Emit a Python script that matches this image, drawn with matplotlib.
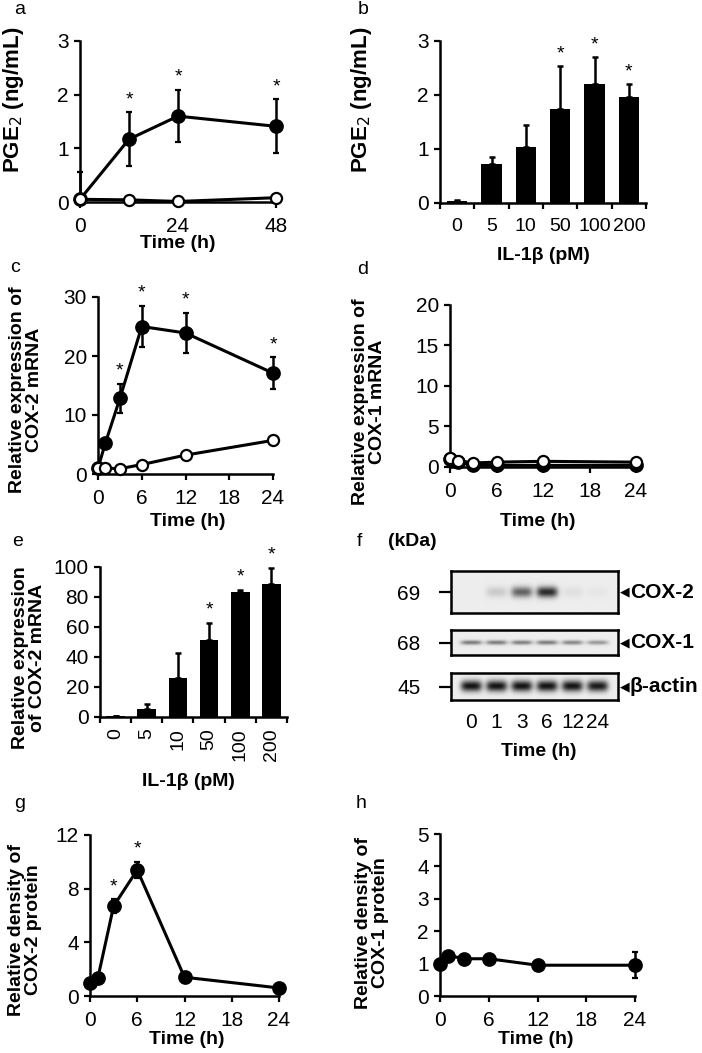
import numpy as np
import matplotlib.pyplot as plt
from matplotlib import transforms

W, H = 702, 1053
plt.rcParams['font.family'] = ['Liberation Sans', 'DejaVu Sans']
plt.rcParams['font.size'] = 14

# a: PGE2 over time
a_time = [0, 12, 24, 48]
a_il1 = [0.05, 1.17, 1.6, 1.41]
a_il1_err = [0.5, 0.5, 0.49, 0.5]
a_ctrl = [0.05, 0.04, 0.01, 0.08]
a_star = [False, True, True, True]

# b: PGE2 vs dose
dose_labels = ['0', '5', '10', '50', '100', '200']
b_pge2 = [0.03, 0.73, 1.04, 1.75, 2.2, 1.96]
b_err = [0.02, 0.12, 0.4, 0.78, 0.5, 0.24]
b_star = [False, False, False, True, True, True]

# c: COX-2 mRNA over time
time_h = [0, 1, 3, 6, 12, 24]
c_il1 = [1.0, 5.2, 12.8, 25.0, 23.9, 17.1]
c_il1_err = [0.3, 0.8, 2.5, 3.5, 3.4, 2.7]
c_ctrl = [1.0, 1.0, 0.9, 1.6, 3.2, 5.7]
c_star = [False, False, True, True, True, True]

# d: COX-1 mRNA over time
d_il1 = [1.0, 0.6, 0.2, 0.2, 0.2, 0.2]
d_il1_err = [0.2, 0.5, 0.1, 0.1, 0.1, 0.1]
d_ctrl = [1.1, 0.8, 0.5, 0.6, 0.7, 0.6]

# e: COX-2 mRNA vs dose
e_expr = [0.5, 5.5, 26, 51.5, 83.5, 89]
e_err = [0.3, 3.5, 17, 11.5, 1.5, 10.5]
e_star = [False, False, False, True, True, True]

# f: western blot band intensities per lane
blot_lanes = ['0', '1', '3', '6', '12', '24']
cox2_band = [0.0, 0.15, 0.6, 0.85, 0.06, 0.03]
cox1_band = [0.5, 0.5, 0.48, 0.5, 0.45, 0.38]
actin_band = [0.95, 0.95, 0.95, 0.95, 0.95, 0.92]

# g, h: protein density
g_density = [1.0, 1.35, 6.7, 9.4, 1.4, 0.6]
g_err = [0.1, 0.15, 0.5, 0.6, 0.2, 0.1]
g_star = [False, False, True, True, False, False]
h_density = [1.0, 1.25, 1.15, 1.15, 0.95, 0.95]
h_err = [0.1, 0.1, 0.1, 0.1, 0.1, 0.4]

fig = plt.figure(figsize=(W / 100, H / 100), dpi=100)


def box(x0, y0, x1, y1):
    return fig.add_axes([x0 / W, 1 - y1 / H, (x1 - x0) / W, (y1 - y0) / H])


def style(ax):
    for s in ['top', 'right']:
        ax.spines[s].set_visible(False)
    for s in ['left', 'bottom']:
        ax.spines[s].set_linewidth(1.8)
    ax.tick_params(width=1.6, length=4, labelsize=15)
    ax.tick_params(axis='x', pad=7)
    ax.tick_params(axis='y', pad=4)


def ftext(x, y, s, **kw):
    kw.setdefault('ha', 'center')
    kw.setdefault('va', 'center')
    return fig.text(x / W, 1 - y / H, s, **kw)


def ylab(x, y, s, size=14):
    ftext(x, y, s, rotation=90, fontweight='bold', multialignment='center',
          linespacing=1.0, fontsize=size)


def stars(ax, x, top, flags, off=3):
    for xi, ti, f in zip(x, top, flags):
        if f:
            ax.annotate('*', (xi, ti), xytext=(0, off), textcoords='offset points',
                        ha='center', va='bottom', fontsize=14)


def line(ax, x, y, err, filled=True, ms=9):
    if err is not None:
        # lower whisker never goes below the axis
        err = [np.minimum(err, y), err]
    ax.errorbar(x, y, yerr=err, fmt='-o', color='black', lw=2.2,
                mfc='black' if filled else 'white', mec='black', mew=1.6, ms=ms,
                elinewidth=1.8, capsize=2.5, capthick=1.8, clip_on=False,
                zorder=3 if filled else 4)


# ---- a
ax = box(80, 41, 276, 202)
style(ax)
line(ax, a_time, a_il1, a_il1_err)
line(ax, a_time, a_ctrl, None, filled=False, ms=8)
ax.set_xlim(0, 48)
ax.set_ylim(0, 3)
ax.set_xticks([0, 24, 48])
ax.set_yticks([0, 1, 2, 3])
stars(ax, a_time, np.add(a_il1, a_il1_err), a_star)
ylab(14, 100, 'PGE$_2$ (ng/mL)', size=16)
ftext(178, 243, 'Time (h)', fontweight='bold')
ftext(20, 10, 'a')

# ---- b
ax = box(440, 41, 646, 203)
style(ax)
xb = np.arange(len(dose_labels))
ax.bar(xb, b_pge2, width=0.6, color='black',
       yerr=[np.zeros(len(b_err)), b_err], capsize=2.5,
       error_kw=dict(elinewidth=1.8, capthick=1.8))
ax.set_xlim(-0.5, 5.5)
ax.set_ylim(0, 3)
ax.set_yticks([0, 1, 2, 3])
ax.set_xticks(np.arange(-0.5, 6, 1))
ax.set_xticklabels([])
ax.set_xticks(xb, minor=True)
ax.set_xticklabels(dose_labels, minor=True)
ax.tick_params(axis='x', which='minor', length=0, pad=11)
stars(ax, xb, np.add(b_pge2, b_err), b_star)
ylab(361, 100, 'PGE$_2$ (ng/mL)', size=16)
ftext(543, 256, 'IL-1β (pM)', fontweight='bold')
ftext(363, 10, 'b')

# ---- c
ax = box(98, 297, 273, 474)
style(ax)
line(ax, time_h, c_il1, c_il1_err)
line(ax, time_h, c_ctrl, None, filled=False, ms=8)
ax.set_xlim(0, 24)
ax.set_ylim(0, 30)
ax.set_xticks([0, 6, 12, 18, 24])
ax.set_yticks([0, 10, 20, 30])
stars(ax, time_h, np.add(c_il1, c_il1_err), c_star)
ylab(26, 390, 'Relative expression of\nCOX-2 mRNA')
ftext(188, 522, 'Time (h)', fontweight='bold')
ftext(15, 267, 'c')

# ---- d
ax = box(450, 305, 636, 467)
style(ax)
line(ax, time_h, d_il1, d_il1_err)
line(ax, time_h, d_ctrl, None, filled=False, ms=8)
ax.set_xlim(0, 24)
ax.set_ylim(0, 20)
ax.set_xticks([0, 6, 12, 18, 24])
ax.set_yticks([0, 5, 10, 15, 20])
ylab(369, 402, 'Relative expression of\nCOX-1 mRNA')
ftext(538, 522, 'Time (h)', fontweight='bold')
ftext(363, 270, 'd')

# ---- e
ax = box(100, 567, 287, 717)
style(ax)
ax.bar(xb, e_expr, width=0.6, color='black',
       yerr=[np.zeros(len(e_err)), e_err], capsize=2.5,
       error_kw=dict(elinewidth=1.8, capthick=1.8))
ax.set_xlim(-0.5, 5.5)
ax.set_ylim(0, 100)
ax.set_yticks([0, 20, 40, 60, 80, 100])
ax.set_xticks(np.arange(-0.5, 6, 1))
ax.set_xticklabels([])
ax.set_xticks(xb, minor=True)
ax.set_xticklabels(dose_labels, minor=True, rotation=90, va='top')
ax.tick_params(axis='x', which='minor', length=0, pad=8)
stars(ax, xb, np.add(e_expr, e_err), e_star)
ylab(29, 658, 'Relative expression\nof COX-2 mRNA')
ftext(188, 782, 'IL-1β (pM)', fontweight='bold')
ftext(18, 541, 'e')

# ---- f: blots
xs = np.linspace(-0.8, 5.8, 400)
ys = np.linspace(0, 1, 80)
XX, YY = np.meshgrid(xs, ys)


def blot(y0, y1, bands, sigma, kda, name):
    ax = box(451, y0, 618, y1)
    img = np.full(XX.shape, 0.93)
    for i, v in enumerate(bands):
        img -= 0.9 * v * np.exp(-((XX - i) / 0.42) ** 4) * np.exp(-((YY - 0.5) / sigma) ** 2)
    ax.imshow(np.clip(img, 0, 1), cmap='gray', vmin=0, vmax=1, aspect='auto',
              extent=(-0.8, 5.8, 0, 1), origin='lower', interpolation='bilinear')
    for s in ax.spines.values():
        s.set_linewidth(1.8)
    ax.set_xticks([])
    ax.set_yticks([0.5])
    ax.set_yticklabels([kda])
    ax.tick_params(axis='y', length=9, width=1.6, pad=13, labelsize=15)
    ax.text(1.012, 0.5, '◀', transform=ax.transAxes, fontsize=9, va='center',
            family='DejaVu Sans')
    ax.text(1.07, 0.5, name, transform=ax.transAxes, fontsize=15, va='center',
            fontweight='bold')
    return ax


blot(571, 613, cox2_band, 0.13, '69', 'COX-2')
blot(630, 655, cox1_band, 0.09, '68', 'COX-1')
bax = blot(673, 700, actin_band, 0.2, '45', 'β-actin')
tr = transforms.blended_transform_factory(bax.transData, fig.transFigure)
for i, lab in enumerate(blot_lanes):
    bax.text(i, 1 - 722 / H, lab, transform=tr, ha='center', va='center', fontsize=15)
ftext(539, 752, 'Time (h)', fontweight='bold')
ftext(359, 541, 'f')
ftext(412, 541, '(kDa)', fontweight='bold')

# ---- g
ax = box(90, 835, 279, 996)
style(ax)
line(ax, time_h, g_density, g_err, ms=9)
ax.set_xlim(0, 24)
ax.set_ylim(0, 12)
ax.set_xticks([0, 6, 12, 18, 24])
ax.set_yticks([0, 4, 8, 12])
stars(ax, time_h, np.add(g_density, g_err), g_star)
ylab(25, 930, 'Relative density of\nCOX-2 protein')
ftext(187, 1040, 'Time (h)', fontweight='bold')
ftext(20, 803, 'g')

# ---- h
ax = box(440, 834, 635, 996)
style(ax)
line(ax, time_h, h_density, h_err, ms=9)
ax.set_xlim(0, 24)
ax.set_ylim(0, 5)
ax.set_xticks([0, 6, 12, 18, 24])
ax.set_yticks([0, 1, 2, 3, 4, 5])
ylab(372, 923, 'Relative density of\nCOX-1 protein')
ftext(536, 1040, 'Time (h)', fontweight='bold')
ftext(361, 803, 'h')

fig.savefig('out.png', dpi=100)
